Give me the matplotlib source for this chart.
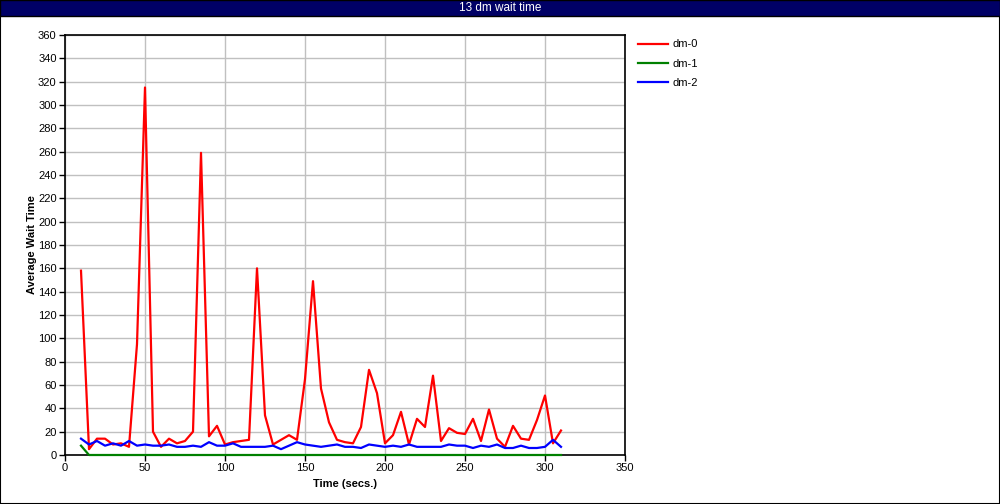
import matplotlib
matplotlib.use("Agg")
import matplotlib.pyplot as plt
from matplotlib.patches import Rectangle

# sample times (secs.)
times = list(range(10, 315, 5))

dm0 = [158, 5, 14, 14, 9, 10, 7, 95, 315, 20,
       7, 14, 10, 12, 20, 259, 16, 25, 9, 11,
       12, 13, 160, 34, 9, 13, 17, 13, 65, 149,
       57, 28, 13, 11, 10, 24, 73, 53, 10, 17,
       37, 9, 31, 24, 68, 12, 23, 19, 18, 31,
       12, 39, 14, 7, 25, 14, 13, 30, 51, 10,
       21]
dm1 = [8] + [0] * 60
dm2 = [14, 9, 12, 8, 10, 8, 12, 8, 9, 8,
       8, 9, 7, 7, 8, 7, 11, 8, 8, 10,
       7, 7, 7, 7, 8, 5, 8, 11, 9, 8,
       7, 8, 9, 7, 7, 6, 9, 8, 7, 8,
       7, 9, 7, 7, 7, 7, 9, 8, 8, 6,
       8, 7, 9, 6, 6, 8, 6, 6, 7, 13,
       7]

series_names = ["dm-0", "dm-1", "dm-2"]
series_colors = ["#ff0000", "#008000", "#0000ff"]
title = "13 dm wait time"

plt.rcParams["font.family"] = ["Liberation Sans", "DejaVu Sans"]

fig = plt.figure(figsize=(10, 5.04), dpi=100)
fig.patch.set_facecolor("white")

# outer border and title bar
fig.patches.append(Rectangle((0, 0), 1, 1, transform=fig.transFigure,
                             fill=False, edgecolor="black", linewidth=1.5))
fig.patches.append(Rectangle((0, 1 - 16 / 504), 1, 16 / 504, transform=fig.transFigure,
                             facecolor="#000066", edgecolor="black", linewidth=1))
fig.text(0.5, 1 - 8 / 504, title, color="white", ha="center", va="center", fontsize=8.5)

ax = fig.add_axes([0.065, 49 / 504, 0.56, 420 / 504])
for vals, name, col in zip([dm0, dm1, dm2], series_names, series_colors):
    ax.plot(times, vals, color=col, linewidth=1.6, label=name,
            clip_on=False, zorder=3)

ax.set_xlim(0, 350)
ax.set_ylim(0, 360)
ax.set_xticks(range(0, 351, 50))
ax.set_yticks(range(0, 361, 20))
ax.grid(True, color="#c0c0c0", linewidth=1)
ax.set_axisbelow(True)
ax.tick_params(labelsize=8, length=4, width=1, direction="out", pad=2)
for s in ax.spines.values():
    s.set_linewidth(1.2)
    s.set_zorder(2)
ax.set_xlabel("Time (secs.)", fontsize=8, fontweight="bold", labelpad=4)
ax.set_ylabel("Average Wait Time", fontsize=8, fontweight="bold", labelpad=1)

ax.legend(loc="upper left", bbox_to_anchor=(1.0 + 9 / 560, 1.0), frameon=False,
          fontsize=8, handlelength=2.7, handletextpad=0.35, labelspacing=0.85,
          borderaxespad=0)

fig.savefig("out.png", dpi=100)
